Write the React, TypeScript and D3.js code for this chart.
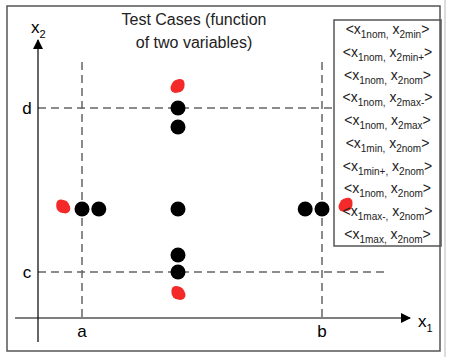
import React from "react";
import * as d3 from "d3";

// Boundary values (normalised units): a,b for x1; c,d for x2
const x1Bounds = [{ label: "a", v: 0 }, { label: "b", v: 1 }];
const x2Bounds = [{ label: "c", v: 0 }, { label: "d", v: 1 }];

// Valid test cases (black points)
const validX1 = [0.4, 0.4, 0.4, 0.4, 0.4, 0.0, 0.07, 0.93, 1.0];
const validX2 = [0.0, 0.104, 0.384, 0.884, 1.0, 0.384, 0.384, 0.384, 0.384];

// Invalid test cases (red blobs)
const invalidX1 = [-0.08, 0.4, 0.4, 1.1];
const invalidX2 = [0.4, 1.134, -0.128, 0.41];

// Legend entries: [x1 subscript, x2 subscript]
const legendX1 = ["1nom", "1nom", "1nom", "1nom", "1nom", "1min", "1min+", "1nom", "1max-", "1max"];
const legendX2 = ["2min", "2min+", "2nom", "2max-", "2max", "2nom", "2nom", "2nom", "2nom", "2nom"];

const titleLines = ["Test Cases (function", "of two variables)"];

const W = 453, H = 357;
const FONT = "'Liberation Sans', Arial, sans-serif";

export default function App() {
  const x = d3.scaleLinear().domain([0, 1]).range([82, 322]);
  const y = d3.scaleLinear().domain([0, 1]).range([272, 108]);
  const axisY = 318; // x1 axis position
  const axisX = 38;  // x2 axis position
  const legendY = d3.scaleLinear().domain([0, legendX1.length - 1]).range([34, 239]);
  const dash = "8,5";
  const grey = "#666";
  const red = "#f42a2a";

  return (
    <svg width={W} height={H} style={{ position: "absolute", left: 0, top: 0, background: "#fff" }} fontFamily={FONT}>
      <defs>
        <marker id="arr" viewBox="0 0 10 10" refX="9" refY="5" markerWidth="10" markerHeight="10" markerUnits="userSpaceOnUse" orient="auto">
          <path d="M0,0 L10,5 L0,10 Z" fill="#000" />
        </marker>
      </defs>
      {/* shadow line on right */}
      <line x1={445} x2={445} y1={0} y2={H} stroke="#d0d0d0" strokeWidth={1.5} />
      {/* outer frame */}
      <rect x={7} y={6} width={433} height={345} fill="none" stroke="#555" strokeWidth={1.5} />

      {/* title */}
      {titleLines.map((t, i) => (
        <text key={t} x={194} y={25 + i * 23} textAnchor="middle" fontSize={16} fill="#222">{t}</text>
      ))}

      {/* dashed boundary lines */}
      {x1Bounds.map((b) => (
        <line key={b.label} x1={x(b.v)} x2={x(b.v)} y1={62} y2={321} stroke={grey} strokeWidth={1.5} strokeDasharray={dash} />
      ))}
      <line x1={axisX} x2={334} y1={y(1)} y2={y(1)} stroke={grey} strokeWidth={1.5} strokeDasharray={dash} />
      <line x1={axisX} x2={388} y1={y(0)} y2={y(0)} stroke={grey} strokeWidth={1.5} strokeDasharray={dash} />

      {/* axes */}
      <line x1={15} x2={410} y1={axisY} y2={axisY} stroke="#000" strokeWidth={1.2} markerEnd="url(#arr)" />
      <line x1={axisX} x2={axisX} y1={342} y2={40} stroke="#000" strokeWidth={1.2} markerEnd="url(#arr)" />
      <text x={418} y={327} fontSize={17}>x<tspan fontSize={11} dy={5}>1</tspan></text>
      <text x={31} y={33} fontSize={17}>x<tspan fontSize={11} dy={5}>2</tspan></text>

      {/* boundary labels */}
      {x1Bounds.map((b) => (
        <text key={b.label} x={x(b.v)} y={337} textAnchor="middle" fontSize={17}>{b.label}</text>
      ))}
      {x2Bounds.map((b) => (
        <text key={b.label} x={27} y={y(b.v) + 6} textAnchor="middle" fontSize={17}>{b.label}</text>
      ))}

      {/* invalid (red) blobs */}
      {invalidX1.map((v, i) => {
        const cx = x(v), cy = y(invalidX2[i]);
        return (
          <g key={"r" + i} fill={red}>
            <circle cx={cx} cy={cy} r={6.5} />
            <circle cx={cx + (i % 2 ? 2 : -2)} cy={cy - 2.5} r={4.5} />
            <circle cx={cx + (i % 2 ? -2.5 : 2.5)} cy={cy + 2} r={5} />
          </g>
        );
      })}

      {/* valid (black) */}
      {validX1.map((v, i) => (
        <circle key={"b" + i} cx={x(v)} cy={y(validX2[i])} r={7.5} fill="#000" />
      ))}

      {/* legend */}
      <rect x={334} y={20} width={107} height={226} fill="none" stroke="#555" strokeWidth={1.5} />
      {legendX1.map((s, i) => (
        <text key={"l" + i} x={387.5} y={legendY(i)} textAnchor="middle" fontSize={14} fill="#222">
          {"<x"}
          <tspan fontSize={10} dy={4}>{s + ","}</tspan>
          <tspan dy={-4}>{" x"}</tspan>
          <tspan fontSize={10} dy={4}>{legendX2[i]}</tspan>
          <tspan dy={-4}>{">"}</tspan>
        </text>
      ))}
    </svg>
  );
}
